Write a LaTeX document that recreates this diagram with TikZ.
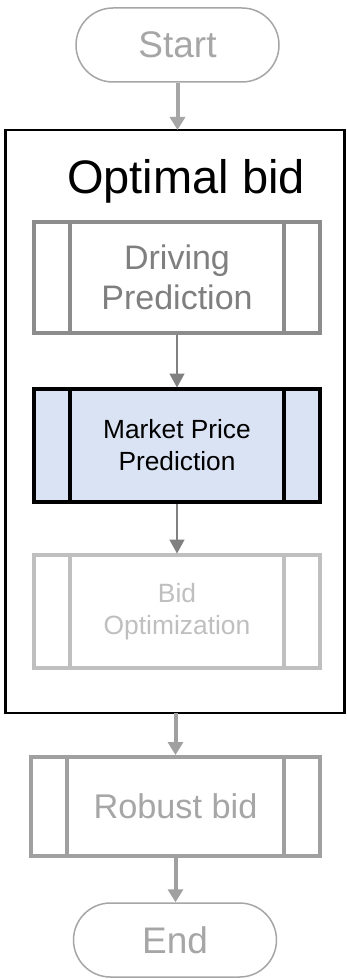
\documentclass[tikz,border=0pt]{standalone}
\usepackage{fontspec}
\setmainfont{Liberation Sans}
\usetikzlibrary{arrows.meta,shapes.misc}
\definecolor{mktfill}{HTML}{DAE3F3}
\definecolor{startgray}{HTML}{A6A6A6}
\definecolor{drvgray}{HTML}{8C8C8C}
\definecolor{drvtext}{HTML}{7F7F7F}
\definecolor{bidgray}{HTML}{BFBFBF}
\definecolor{robgray}{HTML}{A0A0A0}
\definecolor{thingray}{HTML}{808080}
\begin{document}
\begin{tikzpicture}[x=1pt,y=-1pt,
  term/.style={rounded rectangle, draw=startgray, line width=1.5pt, minimum width=203pt, minimum height=74pt, inner sep=0pt, text=startgray, font=\fontsize{37}{44}\selectfont},
  proc/.style={rectangle, line width=4pt, minimum width=286pt, minimum height=111pt, align=center, inner sep=0pt},
  thickarrow/.style={line width=4pt, -{Triangle[width=15pt,length=13pt]}},
  thinarrow/.style={line width=1.5pt, draw=thingray, -{Triangle[width=15pt,length=14pt]}, shorten >=-0.5pt}
]
\useasboundingbox (0,0) rectangle (346,979);
\fill[white] (0,0) rectangle (346,979);

% terminators
\node[term] (start) at (177.5,45) {Start};
\node[term] (end) at (175,940) {End};

% big box
\node[draw=black, line width=2.2pt, minimum width=339pt, minimum height=583pt, inner sep=0pt, outer sep=0pt] (big) at (175,421.5) {};
\node[anchor=base, font=\fontsize{47}{56}\selectfont, inner sep=0pt] (title) at (186,193) {Optimal bid};

% process boxes
\node[proc, draw=drvgray, text=drvtext, font=\fontsize{34}{40}\selectfont] (drv) at (177,277.5) {Driving\\Prediction};
\node[proc, draw=black, fill=mktfill, text=black, minimum height=113pt, font=\fontsize{26.3}{32}\selectfont] (mkt) at (177,445.5) {Market Price\\Prediction};
\node[proc, draw=bidgray, text=bidgray, minimum height=113pt, font=\fontsize{26.4}{32}\selectfont] (bid) at (177,611.5) {Bid\\Optimization};
\node[proc, draw=robgray, text=startgray, minimum width=289pt, minimum height=99pt, font=\fontsize{34.3}{40}\selectfont] (rob) at (175.5,806.5) {Robust bid};

% inner vertical lines
\draw[line width=4pt, drvgray] ([xshift=38pt]drv.north west) -- ([xshift=38pt]drv.south west);
\draw[line width=4pt, drvgray] ([xshift=-38pt]drv.north east) -- ([xshift=-38pt]drv.south east);
\draw[line width=4pt, black] ([xshift=38pt]mkt.north west) -- ([xshift=38pt]mkt.south west);
\draw[line width=4pt, black] ([xshift=-38pt]mkt.north east) -- ([xshift=-38pt]mkt.south east);
\draw[line width=4pt, bidgray] ([xshift=38pt]bid.north west) -- ([xshift=38pt]bid.south west);
\draw[line width=4pt, bidgray] ([xshift=-38pt]bid.north east) -- ([xshift=-38pt]bid.south east);
\draw[line width=4pt, robgray] ([xshift=38pt]rob.north west) -- ([xshift=38pt]rob.south west);
\draw[line width=4pt, robgray] ([xshift=-38pt]rob.north east) -- ([xshift=-38pt]rob.south east);

% connectors
\draw[thickarrow, draw=startgray, fill=startgray] (start.south) -- (start.south |- big.north);
\draw[thinarrow, fill=thingray] (drv.south) -- (mkt.north);
\draw[thinarrow, fill=thingray] (mkt.south) -- (bid.north);
\draw[thickarrow, draw=robgray, fill=robgray] (rob.north |- big.south) -- (rob.north);
\draw[thickarrow, draw=robgray, fill=robgray] (rob.south) -- (rob.south |- end.north);
\end{tikzpicture}
\end{document}
